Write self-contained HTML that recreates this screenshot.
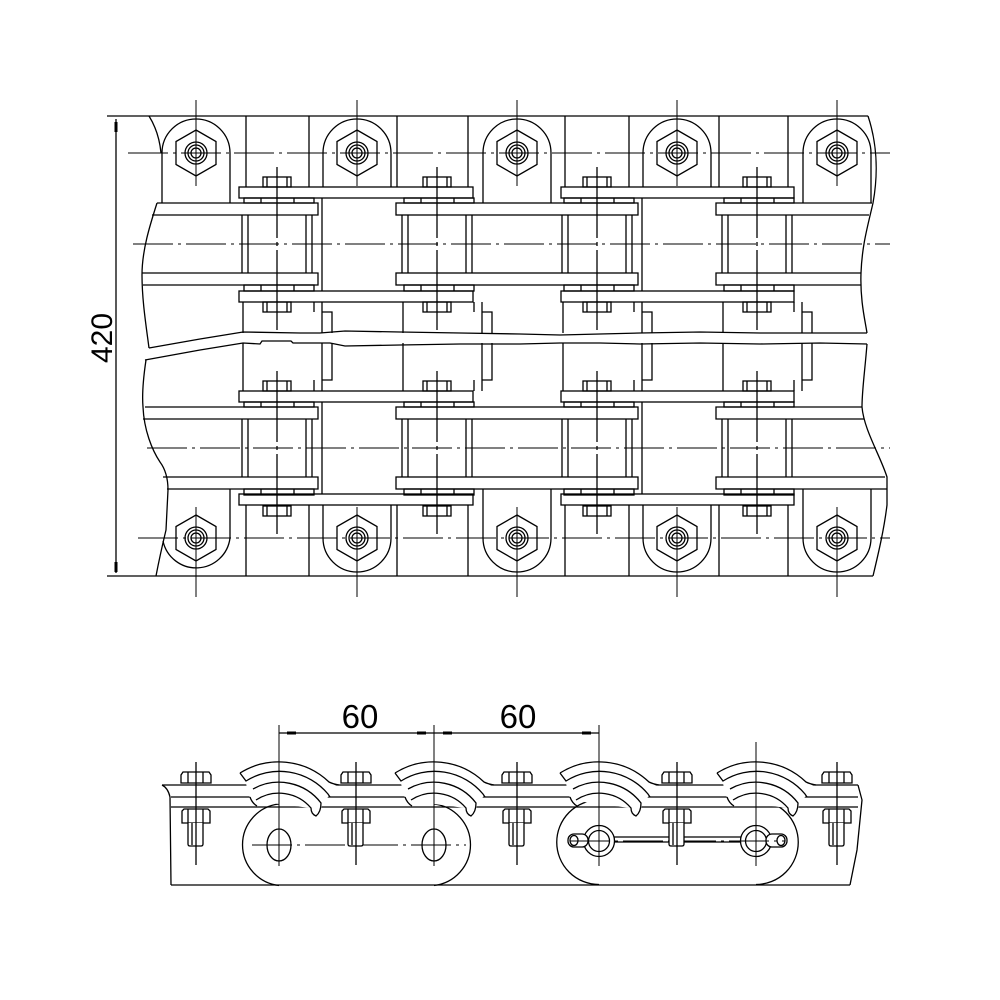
<!DOCTYPE html>
<html><head><meta charset="utf-8"><style>
html,body{margin:0;padding:0;background:#fff;}
svg{display:block;}
</style></head><body>
<svg width="1000" height="1000" viewBox="0 0 1000 1000" xmlns="http://www.w3.org/2000/svg">
<rect width="1000" height="1000" fill="#fff"/>
<defs>
  <g id="nut">
    <polygon points="0,-23 20,-11.5 20,11.5 0,23 -20,11.5 -20,-11.5"/>
    <circle r="11"/><circle r="8"/><circle r="5"/>
  </g>
  <g id="pin">
    <rect x="-14" y="177" width="28" height="10"/>
    <line x1="-10" y1="177" x2="-10" y2="187"/><line x1="10" y1="177" x2="10" y2="187"/>
    <rect x="-14" y="302" width="28" height="10"/>
    <line x1="-10" y1="302" x2="-10" y2="312"/><line x1="10" y1="302" x2="10" y2="312"/>
    <rect x="-33" y="198" width="70" height="5"/>
    <line x1="-16" y1="198" x2="-16" y2="203"/><line x1="17" y1="198" x2="17" y2="203"/>
    <rect x="-33" y="285" width="70" height="6"/>
    <line x1="-16" y1="285" x2="-16" y2="291"/><line x1="17" y1="285" x2="17" y2="291"/>
    <line x1="-35" y1="215" x2="-35" y2="273"/><line x1="-29" y1="215" x2="-29" y2="273"/>
    <line x1="29" y1="215" x2="29" y2="273"/><line x1="35" y1="215" x2="35" y2="273"/>
    <line x1="0" y1="167" x2="0" y2="238"/><line x1="0" y1="242" x2="0" y2="246"/><line x1="0" y1="250" x2="0" y2="330"/>
  </g>
  <g id="step">
    <line x1="-34" y1="302" x2="-34" y2="333"/><line x1="-34" y1="343" x2="-34" y2="391"/>
    <path d="M37,302 V312 M45,302 V333 M45,312 H55 V333 M45,343 V391 M55,343 V380 H45 M37,380 V391"/>
  </g>
  <g id="bolt">
    <path d="M-15,783 V775 L-13,772 H13 L15,775 V783 Z" fill="#fff"/>
    <line x1="-8" y1="772" x2="-8" y2="783"/><line x1="7" y1="772" x2="7" y2="783"/>
    <path d="M-14,823 V811 L-12,809 H12 L14,811 V823 Z" fill="#fff"/>
    <line x1="-8" y1="809" x2="-8" y2="823"/><line x1="7" y1="809" x2="7" y2="823"/>
    <path d="M-8,823 V844 Q-8,846 -6,846 H5 Q7,846 7,844 V823" fill="#fff"/>
    <line x1="-4" y1="823" x2="-4" y2="845"/>
    <line x1="0" y1="762" x2="0" y2="865"/>
  </g>
  <g id="hook">
    <path fill="#fff" stroke="none" d="M-40,772 A73,73 0 0 1 52,783 L58,786 L50,796 L43,803 Q43,812 37,817 L31,808 L-23,801 L-29,798 L-34,780 Z"/>
    <path d="M-39,773 A73,73 0 0 1 50,782 Q54,784 60,785"/>
    <path d="M-39,773 L-33,781 A63,63 0 0 1 49,794 L51,797"/>
    <path d="M-26,789 A53,53 0 0 1 42,803 Q42,812 37,816 Q32,814 32,808 A42,42 0 0 0 -23,800"/>
    <path d="M-29,797 Q-27,803 -22,806"/>
  </g>
</defs>

<g fill="none" stroke="#000" stroke-width="1.3">
  <!-- ===== TOP VIEW ===== -->
  <line x1="107" y1="116" x2="868" y2="116"/>
  <line x1="107" y1="576" x2="873" y2="576"/>
  <line x1="116" y1="119" x2="116" y2="573"/>

  <g stroke-width="1" stroke-dasharray="40 5 3 5">
    <line x1="128" y1="153" x2="890" y2="153"/>
    <line x1="133" y1="244" x2="890" y2="244"/>
    <line x1="147" y1="448" x2="890" y2="448"/>
    <line x1="138" y1="538" x2="890" y2="538"/>
  </g>

  <line x1="246" y1="116" x2="246" y2="187"/><line x1="309" y1="116" x2="309" y2="187"/>
  <line x1="397" y1="116" x2="397" y2="187"/><line x1="468" y1="116" x2="468" y2="187"/>
  <line x1="565" y1="116" x2="565" y2="187"/><line x1="629" y1="116" x2="629" y2="187"/>
  <line x1="719" y1="116" x2="719" y2="187"/><line x1="788" y1="116" x2="788" y2="187"/>
  <line x1="246" y1="505" x2="246" y2="576"/><line x1="309" y1="505" x2="309" y2="576"/>
  <line x1="397" y1="505" x2="397" y2="576"/><line x1="468" y1="505" x2="468" y2="576"/>
  <line x1="565" y1="505" x2="565" y2="576"/><line x1="629" y1="505" x2="629" y2="576"/>
  <line x1="719" y1="505" x2="719" y2="576"/><line x1="788" y1="505" x2="788" y2="576"/>

  <path d="M162,203 V153 A34,34 0 0 1 230,153 V203"/>
  <path d="M323,187 V153 A34,34 0 0 1 391,153 V187"/>
  <path d="M483,203 V153 A34,34 0 0 1 551,153 V203"/>
  <path d="M643,187 V153 A34,34 0 0 1 711,153 V187"/>
  <path d="M803,203 V153 A34,34 0 0 1 871,153 V203"/>
  <path d="M163,541 A34,34 0 0 0 230,538 V489"/>
  <path d="M323,505 V538 A34,34 0 0 0 391,538 V505"/>
  <path d="M483,489 V538 A34,34 0 0 0 551,538 V489"/>
  <path d="M643,505 V538 A34,34 0 0 0 711,538 V505"/>
  <path d="M803,489 V538 A34,34 0 0 0 871,538 V489"/>

  <use href="#nut" transform="translate(196,153)"/>
  <use href="#nut" transform="translate(357,153)"/>
  <use href="#nut" transform="translate(517,153)"/>
  <use href="#nut" transform="translate(677,153)"/>
  <use href="#nut" transform="translate(837,153)"/>
  <use href="#nut" transform="translate(196,538)"/>
  <use href="#nut" transform="translate(357,538)"/>
  <use href="#nut" transform="translate(517,538)"/>
  <use href="#nut" transform="translate(677,538)"/>
  <use href="#nut" transform="translate(837,538)"/>
  <g stroke-width="1">
    <line x1="196" y1="100" x2="196" y2="186"/><line x1="357" y1="100" x2="357" y2="186"/>
    <line x1="517" y1="100" x2="517" y2="186"/><line x1="677" y1="100" x2="677" y2="186"/>
    <line x1="837" y1="100" x2="837" y2="186"/>
    <line x1="196" y1="507" x2="196" y2="597"/><line x1="357" y1="507" x2="357" y2="597"/>
    <line x1="517" y1="507" x2="517" y2="597"/><line x1="677" y1="507" x2="677" y2="597"/>
    <line x1="837" y1="507" x2="837" y2="597"/>
  </g>

  <rect x="239" y="187" width="234" height="11" fill="#fff"/>
  <rect x="561" y="187" width="233" height="11" fill="#fff"/>
  <rect x="239" y="291" width="234" height="11" fill="#fff"/>
  <rect x="561" y="291" width="233" height="11" fill="#fff"/>
  <rect x="396" y="203" width="242" height="12"/>
  <rect x="396" y="273" width="242" height="12"/>
  <path d="M157,203 H318 V215 H152"/>
  <path d="M142,273 H318 V285 H143"/>
  <path d="M872,203 H716 V215 H869"/>
  <path d="M861,273 H716 V285 H861"/>
  <rect x="239" y="391" width="234" height="11" fill="#fff"/>
  <rect x="561" y="391" width="233" height="11" fill="#fff"/>
  <rect x="239" y="494" width="234" height="11" fill="#fff"/>
  <rect x="561" y="494" width="233" height="11" fill="#fff"/>
  <rect x="396" y="407" width="242" height="12"/>
  <rect x="396" y="477" width="242" height="12"/>
  <path d="M145,407 H318 V419 H143"/>
  <path d="M163,477 H318 V489 H167"/>
  <path d="M862,407 H716 V419 H864"/>
  <path d="M885,477 H716 V489 H887"/>

  <use href="#pin" transform="translate(277,0)"/>
  <use href="#pin" transform="translate(437,0)"/>
  <use href="#pin" transform="translate(597,0)"/>
  <use href="#pin" transform="translate(757,0)"/>
  <use href="#pin" transform="translate(277,204)"/>
  <use href="#pin" transform="translate(437,204)"/>
  <use href="#pin" transform="translate(597,204)"/>
  <use href="#pin" transform="translate(757,204)"/>

  <line x1="322" y1="198" x2="322" y2="291"/><line x1="642" y1="198" x2="642" y2="291"/>
  <line x1="322" y1="402" x2="322" y2="494"/><line x1="642" y1="402" x2="642" y2="494"/>

  <use href="#step" transform="translate(277,0)"/>
  <use href="#step" transform="translate(437,0)"/>
  <use href="#step" transform="translate(597,0)"/>
  <use href="#step" transform="translate(757,0)"/>

  <polyline points="149,348 200,339 243,332 300,333 320,333 345,331 400,332 460,333 520,334 560,335 600,334 640,333 700,332 760,333 820,333 867,333"/>
  <polyline points="145,360 200,350 243,343 260,344 262,341 291,341 293,343 330,343 345,346 400,345 460,344 520,344 560,343 600,343 640,344 700,343 760,344 820,343 867,344"/>

  <path d="M149,116 Q159,132 161,153"/>
  <path d="M157,203 C150,225 142,250 142,275 C142,300 146,325 149,348"/>
  <path d="M146,360 C143,380 142,395 143,407 C144,430 152,450 160,462 C166,470 168,480 168,490 L166,530 Q160,555 156,576"/>
  <path d="M868,116 C876,140 879,170 873,203 C868,225 862,245 861,273 C860,300 865,320 867,333"/>
  <path d="M867,344 C865,370 862,390 862,407 C864,430 880,455 887,477 L887,505 C884,530 878,555 873,576"/>

  <!-- ===== SIDE VIEW ===== -->
  <path d="M162,785 H858"/>
  <path d="M171,797 H858"/>
  <path d="M171,807 H858"/>
  <path d="M171,885 H850"/>
  <path d="M162,785 Q168,788 170,797 L171,885"/>
  <path d="M858,785 L862,800 L857,850 L850,885"/>

  <path d="M279,804 A41,41 0 0 0 279,885.5"/>
  <path d="M434,804 A41,41 0 0 1 434,885.5"/>
  <path d="M599,800 A42,42 0 0 0 599,884.5"/>
  <path d="M756,800 A42,42 0 0 1 756,884.5"/>

  <use href="#hook" transform="translate(279,0)"/>
  <use href="#hook" transform="translate(434,0)"/>
  <use href="#hook" transform="translate(599,0)"/>
  <use href="#hook" transform="translate(756,0)"/>

  <ellipse cx="279" cy="845" rx="12" ry="16"/>
  <ellipse cx="434" cy="845" rx="12" ry="16"/>
  <line x1="252" y1="845" x2="466" y2="845" stroke-width="1" stroke-dasharray="40 5 3 5"/>
  <line x1="614" y1="837" x2="741" y2="837"/>
  <line x1="614" y1="842" x2="741" y2="842"/>
  <circle cx="599" cy="841" r="15.5" fill="#fff"/>
  <circle cx="599" cy="841" r="10.5"/>
  <circle cx="756" cy="841" r="15.5" fill="#fff"/>
  <circle cx="756" cy="841" r="10.5"/>
  <rect x="568" y="834" width="20" height="13" rx="6" fill="#fff"/>
  <ellipse cx="574" cy="840.5" rx="4" ry="5"/>
  <rect x="766" y="834" width="21" height="13" rx="6" fill="#fff"/>
  <ellipse cx="781" cy="840.5" rx="4" ry="5"/>
  <line x1="570" y1="841" x2="785" y2="841" stroke-width="1" stroke-dasharray="40 5 3 5"/>

  <use href="#bolt" transform="translate(196,0)"/>
  <use href="#bolt" transform="translate(356,0)"/>
  <use href="#bolt" transform="translate(517,0)"/>
  <use href="#bolt" transform="translate(677,0)"/>
  <use href="#bolt" transform="translate(837,0)"/>

  <line x1="279" y1="733" x2="599" y2="733"/>
  <g stroke-width="1">
    <line x1="279" y1="725" x2="279" y2="866"/>
    <line x1="434" y1="725" x2="434" y2="866"/>
    <line x1="599" y1="725" x2="599" y2="866"/>
    <line x1="756" y1="742" x2="756" y2="866"/>
  </g>
</g>

<g fill="#000">
  <rect x="114.5" y="122" width="3" height="10"/>
  <rect x="114.5" y="562" width="3" height="10"/>
  <rect x="287" y="731.5" width="9" height="3"/>
  <rect x="417" y="731.5" width="9" height="3"/>
  <rect x="443" y="731.5" width="9" height="3"/>
  <rect x="582" y="731.5" width="9" height="3"/>
</g>

<g font-family="'Liberation Sans', Arial, sans-serif" fill="#000">
  <text x="0" y="0" font-size="30" text-anchor="middle" transform="translate(112,338) rotate(-90)">420</text>
  <text x="360" y="728" font-size="33" text-anchor="middle">60</text>
  <text x="518" y="728" font-size="33" text-anchor="middle">60</text>
</g>
</svg>
</body></html>
